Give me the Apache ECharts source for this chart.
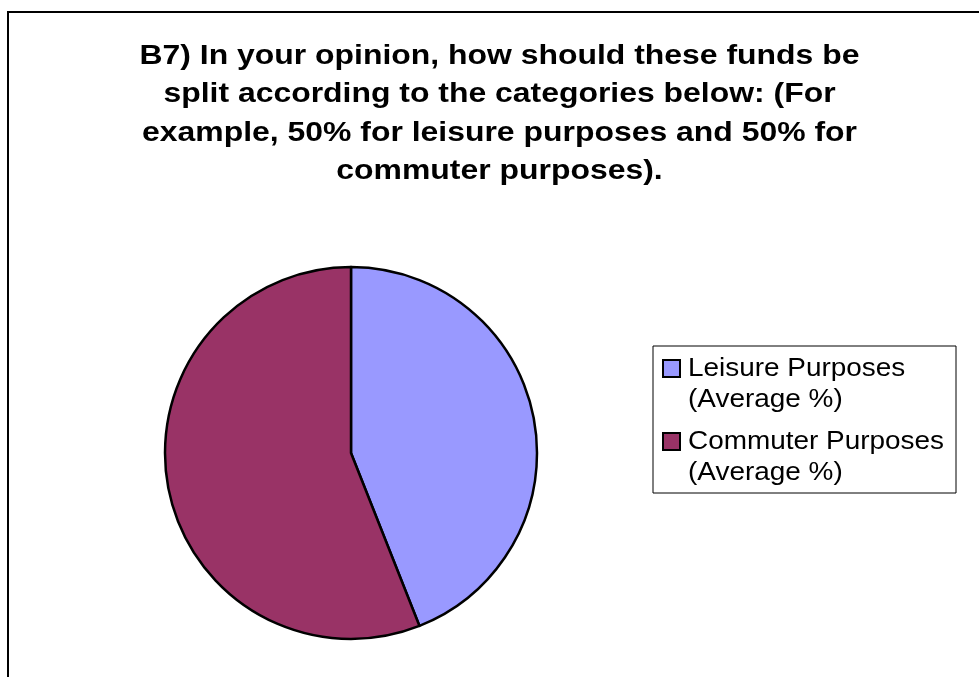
<!DOCTYPE html>
<html>
<head>
<meta charset="utf-8">
<script src="https://cdn.jsdelivr.net/npm/echarts@6/dist/echarts.min.js"></script>
<style>
  html, body { margin: 0; padding: 0; background: #ffffff; }
  #chart { width: 979px; height: 677px; }
</style>
</head>
<body>
<div id="chart"></div>
<script>
// Survey question B7: preferred split of funds (average %)
const titleLines = [
  'B7) In your opinion, how should these funds be',
  'split according to the categories below: (For',
  'example, 50% for leisure purposes and 50% for',
  'commuter purposes).'
];
const categories = ['Leisure Purposes\n(Average %)', 'Commuter Purposes\n(Average %)'];
const values = [44, 56];
const colors = ['#9999FF', '#993366'];

const FONT = '"Liberation Sans", Arial, Helvetica, sans-serif';
const chart = echarts.init(document.getElementById('chart'), null, { renderer: 'canvas' });

// Legend: framed box with a swatch and a two-line caption per category
const legendBox = { x: 653, y: 346, w: 303, h: 147 };
const legendRowTop = [359, 432];
const legendItems = [];
categories.forEach((name, i) => {
  legendItems.push({
    type: 'rect',
    shape: { x: 663, y: legendRowTop[i] + 1, width: 17, height: 17 },
    style: { fill: colors[i], stroke: '#000', lineWidth: 2 },
    z: 10
  });
  legendItems.push({
    type: 'text',
    x: 688,
    y: legendRowTop[i] - 5.25,
    scaleX: 1.117,
    style: {
      text: name,
      font: '25px ' + FONT,
      fill: '#000',
      lineHeight: 31,
      align: 'left', textAlign: 'left',
      verticalAlign: 'top', textVerticalAlign: 'top'
    },
    z: 10
  });
});

const option = {
  animation: false,
  backgroundColor: '#ffffff',
  graphic: [
    // chart area frame
    {
      type: 'rect',
      shape: { x: 8, y: 12, width: 1000, height: 700 },
      style: { fill: 'transparent', stroke: '#000', lineWidth: 2 },
      z: 0
    },
    // title
    {
      type: 'text',
      x: 499.5,
      y: 37,
      scaleX: 1.14,
      style: {
        text: titleLines.join('\n'),
        font: 'bold 28px ' + FONT,
        fill: '#000',
        lineHeight: 38.4,
        align: 'center', textAlign: 'center',
        verticalAlign: 'top', textVerticalAlign: 'top'
      },
      z: 10
    },
    {
      type: 'rect',
      shape: { x: legendBox.x, y: legendBox.y, width: legendBox.w, height: legendBox.h },
      style: { fill: '#fff', stroke: '#000', lineWidth: 1 },
      z: 5
    }
  ].concat(legendItems),
  series: [
    {
      type: 'pie',
      center: [351, 453],
      radius: 186,
      startAngle: 90,
      clockwise: true,
      label: { show: false },
      labelLine: { show: false },
      emphasis: { disabled: true },
      itemStyle: { borderColor: '#000', borderWidth: 2.5 },
      data: categories.map((name, i) => ({
        name: name,
        value: values[i],
        itemStyle: { color: colors[i] }
      }))
    }
  ]
};

chart.setOption(option);
</script>
</body>
</html>
